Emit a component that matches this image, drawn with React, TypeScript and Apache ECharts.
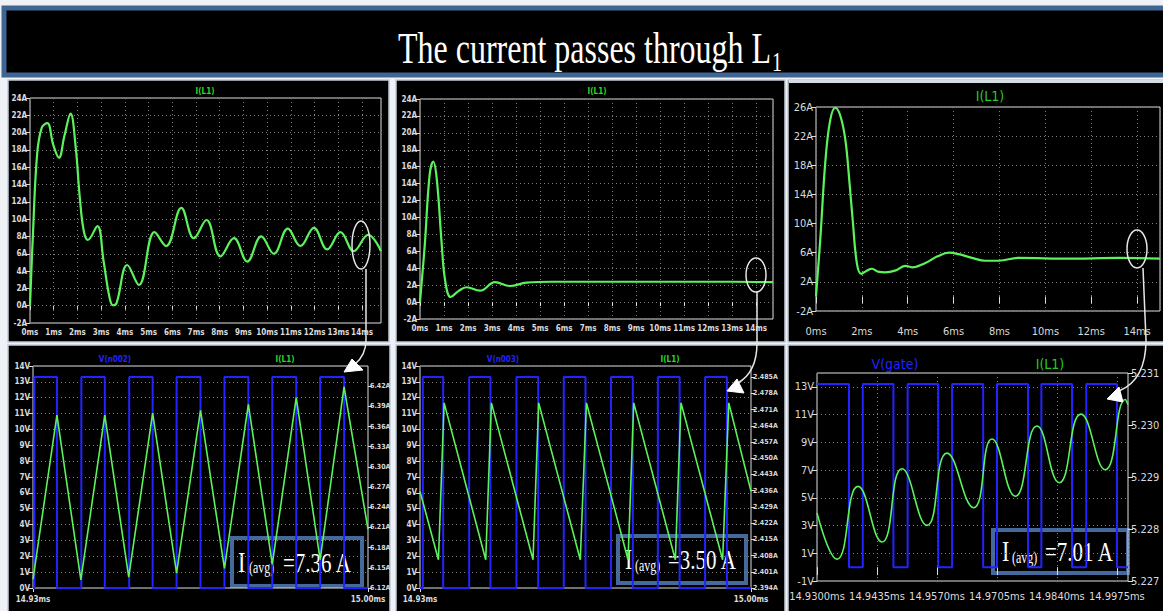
import React, { useEffect, useRef } from "react";
import * as echarts from "echarts";

// ---------------- data ----------------
const titleMain = "The current passes through L";
const titleSub = "1";

// top row: I(L1) start-up transients, [time ms, current A]
const topLeftCurrent: [number, number][] = [
  [0, 0], [0.12, 8], [0.3, 17.5], [0.5, 20.6], [0.73, 21.1], [0.98, 18.6], [1.22, 17.1],
  [1.45, 19.6], [1.71, 22.2], [1.92, 18.5], [2.1, 12.5], [2.27, 8.6], [2.44, 7.6],
  [2.84, 9.2], [3.1, 5.2], [3.35, 1.0], [3.5, 0.05], [3.65, 0.3], [4.1, 4.7], [4.59, 2.4],
  [5.25, 8.5], [5.74, 6.9], [6.38, 11.3], [6.91, 7.8], [7.44, 9.9], [8.03, 5.7], [8.6, 7.8],
  [9.16, 5.1], [9.75, 8.0], [10.28, 6.0], [10.87, 8.9], [11.4, 6.9], [11.97, 9.0],
  [12.53, 6.5], [13.09, 8.5], [13.65, 6.3], [14.26, 8.2], [14.8, 6.3],
];
const topMiddleCurrent: [number, number][] = [
  [0, 0], [0.2, 6.8], [0.4, 15], [0.55, 16.6], [0.7, 14.5], [0.9, 7], [1.05, 2.5],
  [1.28, 0.6], [1.6, 1.3], [1.94, 1.75], [2.5, 1.35], [3.12, 2.35], [3.74, 1.9],
  [4.44, 2.3], [5.5, 2.4], [7, 2.4], [9, 2.4], [11, 2.4], [13, 2.4], [14.7, 2.35],
];
const topRightCurrent: [number, number][] = [
  [0, 0], [0.19, 8], [0.41, 18.6], [0.62, 24.2], [0.84, 25.9], [1.06, 24.8], [1.28, 21.5],
  [1.45, 16], [1.6, 10.5], [1.79, 4.4], [1.98, 3.1], [2.2, 3.5], [2.44, 3.8], [2.7, 3.4],
  [3.02, 3.3], [3.5, 3.6], [3.9, 4.2], [4.19, 4.0], [4.77, 4.6], [5.3, 5.5], [5.8, 6.0],
  [6.22, 5.8], [6.8, 5.3], [7.38, 4.9], [7.97, 4.9], [8.84, 5.3], [10.29, 5.2],
  [11.74, 5.2], [13.2, 5.3], [15, 5.2],
];

// bottom row: gate voltage [time ms, V] and inductor current [time ms, A]
const bottomLeftGate: [number, number][] = [
  [14.93, 0], [14.9303, 0], [14.9303, 13.3], [14.935, 13.3], [14.935, 0],
  [14.9401, 0], [14.9401, 13.3], [14.945, 13.3], [14.945, 0],
  [14.9501, 0], [14.9501, 13.3], [14.955, 13.3], [14.955, 0],
  [14.96, 0], [14.96, 13.3], [14.965, 13.3], [14.965, 0],
  [14.97, 0], [14.97, 13.3], [14.975, 13.3], [14.975, 0],
  [14.98, 0], [14.98, 13.3], [14.985, 13.3], [14.985, 0],
  [14.99, 0], [14.99, 13.3], [14.995, 13.3], [14.995, 0], [15.0, 0],
];
const bottomLeftCurrent: [number, number][] = [
  [14.93, 6.133], [14.935, 6.377], [14.94, 6.132], [14.945, 6.377], [14.95, 6.136],
  [14.955, 6.38], [14.96, 6.142], [14.965, 6.384], [14.97, 6.149], [14.975, 6.393],
  [14.98, 6.155], [14.985, 6.403], [14.99, 6.162], [14.995, 6.419], [15.0, 6.207],
];
const bottomMiddleGate: [number, number][] = [
  [14.93, 0], [14.9306, 0], [14.9306, 13.3], [14.9349, 13.3], [14.9349, 0],
  [14.9404, 0], [14.9404, 13.3], [14.9449, 13.3], [14.9449, 0],
  [14.9504, 0], [14.9504, 13.3], [14.955, 13.3], [14.955, 0],
  [14.9604, 0], [14.9604, 13.3], [14.965, 13.3], [14.965, 0],
  [14.9704, 0], [14.9704, 13.3], [14.975, 13.3], [14.975, 0],
  [14.9803, 0], [14.9803, 13.3], [14.9849, 13.3], [14.9849, 0],
  [14.9903, 0], [14.9903, 13.3], [14.9949, 13.3], [14.9949, 0], [15.0, 0],
];
const bottomMiddleCurrent: [number, number][] = [
  [14.93, 2.4357], [14.9339, 2.4062], [14.9351, 2.4739], [14.9439, 2.4062], [14.9451, 2.4739],
  [14.9539, 2.4062], [14.9551, 2.4739], [14.9639, 2.4062], [14.9652, 2.4739],
  [14.974, 2.4062], [14.9752, 2.4739], [14.984, 2.4062], [14.9852, 2.4739],
  [14.994, 2.4062], [14.9953, 2.4739], [15.0, 2.4357],
];
const bottomRightGate: [number, number][] = [
  [14.93, 13.2], [14.9372, 13.2], [14.9372, 0], [14.9403, 0], [14.9403, 13.2],
  [14.9472, 13.2], [14.9472, 0], [14.9504, 0], [14.9504, 13.2], [14.9573, 13.2],
  [14.9573, 0], [14.9604, 0], [14.9604, 13.2], [14.9674, 13.2], [14.9674, 0],
  [14.9705, 0], [14.9705, 13.2], [14.9775, 13.2], [14.9775, 0], [14.9805, 0],
  [14.9805, 13.2], [14.9874, 13.2], [14.9874, 0], [14.9906, 0], [14.9906, 13.2],
  [14.9975, 13.2], [14.9975, 0], [15.0, 0],
];
const bottomRightCurrent: [number, number][] = [
  [14.93, 5.22831], [14.9345, 5.22742], [14.93923, 5.22882], [14.94463, 5.22775],
  [14.94913, 5.22916], [14.95475, 5.22807], [14.95925, 5.22946], [14.96525, 5.22841],
  [14.96938, 5.22973], [14.97463, 5.22863], [14.9795, 5.22998], [14.98453, 5.22889],
  [14.9894, 5.23021], [14.99488, 5.22914], [14.99938, 5.23049], [15.0, 5.23039],
];

const avgLabels = ["=7.36 A", "=3.50 A", "=7.01 A"];
const traceNames = { current: "I(L1)", gates: ["V(n002)", "V(n003)", "V(gate)"] };

// ---------------- styles ----------------
const GREEN = "#5cf25c";
const BLUE = "#2323ff";
const LABEL = "#dadada";
const NARROW = "'Liberation Sans Narrow', 'DejaVu Sans Condensed', sans-serif";
const SERIF = "'Liberation Serif', 'DejaVu Serif', serif";

const dotted = { show: true, lineStyle: { color: "#7d7d7d", type: [1, 3] as any, width: 1 } };
const noSplit = { show: false };
const tickOf = (len: number) => ({ show: true, length: len, inside: false, lineStyle: { color: "#dddddd", width: 1 } });

function xAx(grid: number, min: number, max: number, interval: number, fmt: (v: number) => string, size: number, split: boolean, margin = 4, tickLen = 4, showMax = false) {
  return {
    type: "value", gridIndex: grid, min, max, interval, z: 1,
    axisLine: { show: false }, axisTick: tickOf(tickLen),
    axisLabel: { color: LABEL, fontSize: size, fontFamily: NARROW, fontWeight: size < 10 ? "bold" : "normal", margin, formatter: fmt, showMaxLabel: showMax },
    splitLine: split ? dotted : noSplit,
  };
}
function yAx(grid: number, min: number, max: number, interval: number, fmt: (v: number) => string, size: number, split: boolean, right = false, hideMax = false, tickLen = 4, margin = 3) {
  return {
    type: "value", gridIndex: grid, min, max, interval, z: 1, position: right ? "right" : "left",
    axisLine: { show: false }, axisTick: tickOf(tickLen),
    axisLabel: { color: LABEL, fontSize: size, fontFamily: NARROW, fontWeight: size < 10 ? "bold" : "normal", margin, formatter: fmt, showMaxLabel: !hideMax },
    splitLine: split ? dotted : noSplit,
  };
}

function avgBox(x: number, y: number, w: number, h: number, tx: number[], value: string) {
  return {
    type: "group", x, y, z: 20,
    children: [
      { type: "rect", shape: { x: 0, y: 0, width: w, height: h }, style: { fill: "#000", stroke: "#44699a", lineWidth: 4 } },
      {
        type: "group", x: tx[0], y: h / 2, scaleY: 1.35,
        children: [
          { type: "text", x: 0, y: 0, style: { text: "I", fill: "#fff", fontSize: 22, fontFamily: SERIF, verticalAlign: "middle", align: "left" } },
          { type: "text", x: tx[1], y: 4, style: { text: "(avg)", fill: "#fff", fontSize: 12, fontFamily: SERIF, verticalAlign: "middle", align: "left" } },
          { type: "text", x: tx[2], y: 0, style: { text: value, fill: "#fff", fontSize: 21, fontFamily: SERIF, verticalAlign: "middle", align: "left" } },
        ],
      },
    ],
  };
}

function pointer(cx: number, cy: number, rx: number, ry: number, line: number[][], curve: any, head: number[][]) {
  const st = { stroke: "#e6e6e6", lineWidth: 1.5, fill: null as any };
  return [
    { type: "ellipse", z: 20, shape: { cx, cy, rx, ry }, style: { ...st, fill: "transparent" } },
    { type: "polyline", z: 20, shape: { points: line }, style: st },
    { type: "bezierCurve", z: 20, shape: curve, style: st },
    { type: "polygon", z: 20, shape: { points: head }, style: { fill: "#ffffff", stroke: "#ffffff", lineWidth: 1 } },
  ];
}

function label(text: string, x: number, y: number, color: string, size: number, bold = true) {
  return {
    type: "text", x, y, z: 20,
    style: { text, fill: color, fontSize: size, fontFamily: NARROW, fontWeight: bold ? "bold" : "normal", align: "center", verticalAlign: "middle" },
  };
}

export default function App() {
  const ref = useRef<HTMLDivElement>(null);
  useEffect(() => {
    if (!ref.current) return;
    const chart = echarts.init(ref.current, undefined, { renderer: "svg" });
    const panels = [
      [8, 80, 381, 262], [396, 80, 389, 262], [788, 80, 376, 262],
      [8, 345, 382, 267], [396, 345, 389, 267], [788, 345, 376, 267],
    ];
    const graphic: any[] = [
      { type: "rect", z: 0, shape: { x: 4, y: 8, width: 1162, height: 67 }, style: { fill: "#000", stroke: "#3f6592", lineWidth: 5 } },
      {
        type: "group", x: 398, y: 48, scaleY: 1.38, z: 5,
        children: [
          { type: "text", x: 0, y: 0, style: { text: titleMain, fill: "#fff", fontSize: 32, fontFamily: SERIF, align: "left", verticalAlign: "middle" } },
          { type: "text", x: 374, y: 10, style: { text: titleSub, fill: "#fff", fontSize: 20, fontFamily: SERIF, align: "left", verticalAlign: "middle" } },
        ],
      },
      ...panels.map((p) => ({ type: "rect", z: 0, shape: { x: p[0], y: p[1], width: p[2], height: p[3] }, style: { fill: "#000", stroke: "#c3ccd6", lineWidth: 1.5 } })),
      { type: "rect", z: 0, shape: { x: 789, y: 80, width: 374, height: 3 }, style: { fill: "#d5dce4" } },
      label(traceNames.current, 205, 91, "#22dd22", 8),
      label(traceNames.current, 597, 91, "#22dd22", 8),
      label(traceNames.current, 990, 96, "#22cc22", 14, false),
      label(traceNames.gates[0], 115, 359, BLUE, 8),
      label(traceNames.current, 285, 359, "#22dd22", 8),
      label(traceNames.gates[1], 503, 359, BLUE, 8),
      label(traceNames.current, 670, 359, "#22dd22", 8),
      label(traceNames.gates[2], 895, 364, BLUE, 14, false),
      label(traceNames.current, 1050, 364, "#22cc22", 14, false),
      avgBox(232, 538, 130, 48, [6, 11, 45], avgLabels[0]),
      avgBox(618, 536, 128, 47, [7, 10, 43], avgLabels[1]),
      avgBox(993, 530, 135, 43, [9, 10, 43], avgLabels[2]),
      ...pointer(361, 245, 9, 24, [[366, 269], [366, 340]], { x1: 366, y1: 340, x2: 355, y2: 364, cpx1: 366, cpy1: 355 }, [[344, 372], [352, 359], [363, 370]]),
      ...pointer(756, 275, 10, 17, [[757, 292], [757, 343]], { x1: 757, y1: 343, x2: 738, y2: 383, cpx1: 757, cpy1: 372 }, [[727, 391], [737, 379], [744, 393]]),
      ...pointer(1137, 249, 10, 19, [[1143, 268], [1146, 340]], { x1: 1146, y1: 340, x2: 1119, y2: 391, cpx1: 1146, cpy1: 380 }, [[1107, 399], [1119, 387], [1123, 402]]),
    ];

    const grids = [
      { left: 30, top: 98, width: 351, height: 225 },
      { left: 420, top: 99, width: 353, height: 220 },
      { left: 816, top: 107, width: 344, height: 204 },
      { left: 33, top: 366, width: 335, height: 222 },
      { left: 420, top: 366, width: 331, height: 222 },
      { left: 817, top: 373, width: 311, height: 208 },
    ].map((g) => ({ ...g, show: true, z: 1, borderColor: "#dcdcdc", borderWidth: 1, backgroundColor: "transparent" }));

    const ms = (v: number) => `${v}ms`;
    const amp = (v: number) => `${v}A`;
    const volt = (v: number) => `${v}V`;

    const line = (data: [number, number][], xi: number, yi: number, color: string, width: number, smooth: number | boolean, clip = true) => ({
      type: "line", xAxisIndex: xi, yAxisIndex: yi, data, symbol: "none", smooth, clip, z: 3,
      lineStyle: { color, width }, silent: true,
    });

    chart.setOption({
      animation: false,
      backgroundColor: "#eef1f5",
      grid: grids,
      xAxis: [
        xAx(0, 0, 14.8, 1, ms, 8, true, 5),
        xAx(1, 0, 14.7, 1, ms, 8, true, 5),
        xAx(2, 0, 15, 2, ms, 11, true, 15, 7),
        xAx(3, 14.93, 15.0, 0.07, (v) => `${v.toFixed(2)}ms`, 8, false, 7, 4, true),
        xAx(4, 14.93, 15.0, 0.07, (v) => `${v.toFixed(2)}ms`, 8, false, 7, 4, true),
        xAx(5, 14.93, 15.0, 0.0135, (v) => `${v.toFixed(4)}ms`, 11, true, 10, 8),
      ],
      yAxis: [
        yAx(0, -2, 24, 2, amp, 8, true),
        yAx(1, -2, 24, 2, amp, 8, true),
        yAx(2, -2, 26, 4, amp, 11, true, false, false, 5),
        yAx(3, 0, 14, 1, volt, 8, true),
        yAx(3, 6.12, 6.45, 0.03, (v) => `${v.toFixed(2)}A`, 7, false, true, true, 4, 2),
        yAx(4, 0, 14, 1, volt, 8, true),
        yAx(4, 2.394, 2.4898, 0.007, (v) => `${v.toFixed(3)}A`, 7, false, true, true, 4, 2),
        yAx(5, -1, 14, 2, volt, 11, true, false, true, 5),
        yAx(5, 5.227, 5.231, 0.001, (v) => `${v.toFixed(3)}`, 11, false, true, false, 5),
      ],
      series: [
        line(topLeftCurrent, 0, 0, GREEN, 2.2, 0.4),
        line(topMiddleCurrent, 1, 1, GREEN, 2.2, 0.4),
        line(topRightCurrent, 2, 2, GREEN, 2.2, 0.4),
        line(bottomLeftGate, 3, 3, BLUE, 2, false, false),
        line(bottomLeftCurrent, 3, 4, GREEN, 1.6, false),
        line(bottomMiddleGate, 4, 5, BLUE, 2, false, false),
        line(bottomMiddleCurrent, 4, 6, GREEN, 1.6, false),
        line(bottomRightGate, 5, 7, BLUE, 2, false),
        line(bottomRightCurrent, 5, 8, GREEN, 1.6, 0.5),
      ],
      graphic,
    });
    return () => chart.dispose();
  }, []);
  return <div ref={ref} style={{ position: "fixed", left: 0, top: 0, width: 1163, height: 611 }} />;
}
